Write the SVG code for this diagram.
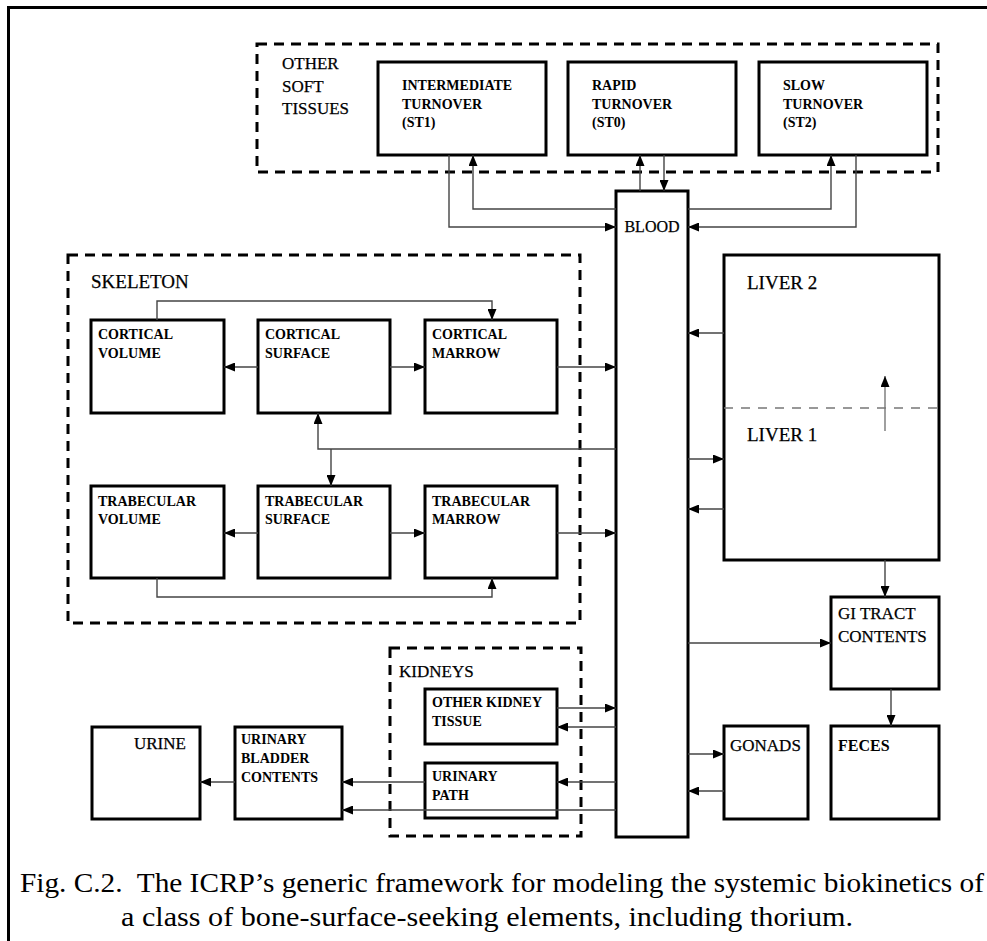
<svg xmlns="http://www.w3.org/2000/svg" width="987" height="941" viewBox="0 0 987 941">
<defs>
<marker id="ah" markerUnits="userSpaceOnUse" markerWidth="11" markerHeight="9" refX="11" refY="4.5" orient="auto">
<path d="M0,0 L11,4.5 L0,9 z" fill="#000"/>
</marker>
</defs>
<style>
.box{fill:#fff;stroke:#000;stroke-width:3}
.grp{fill:none;stroke:#000;stroke-width:3;stroke-dasharray:10,7}
.c{fill:none;stroke:#444;stroke-width:1.4;marker-end:url(#ah)}
.lb{font-family:"Liberation Serif",serif;font-weight:bold;font-size:14px;fill:#000}
.lr{font-family:"Liberation Serif",serif;font-size:17px;fill:#000;stroke:#000;stroke-width:0.25}
.cap{font-family:"Liberation Serif",serif;font-size:28px;fill:#000}
</style>
<rect width="987" height="941" fill="#fff"/>
<path d="M8.5,941 V7.5 H987" fill="none" stroke="#000" stroke-width="3"/>

<g id="other-soft-tissues">
<rect class="grp" x="257" y="44" width="681" height="128"/>
<text class="lr" x="282" y="69">OTHER</text>
<text class="lr" x="282" y="92">SOFT</text>
<text class="lr" x="282" y="114">TISSUES</text>
</g>
<g id="st1"><rect class="box" x="378" y="62" width="168" height="93"/>
<text class="lb" x="402" y="90">INTERMEDIATE</text><text class="lb" x="402" y="109">TURNOVER</text><text class="lb" x="402" y="127">(ST1)</text></g>
<g id="st0"><rect class="box" x="568" y="62" width="168" height="93"/>
<text class="lb" x="592" y="90">RAPID</text><text class="lb" x="592" y="109">TURNOVER</text><text class="lb" x="592" y="127">(ST0)</text></g>
<g id="st2"><rect class="box" x="759" y="62" width="168" height="93"/>
<text class="lb" x="783" y="90">SLOW</text><text class="lb" x="783" y="109">TURNOVER</text><text class="lb" x="783" y="127">(ST2)</text></g>

<g id="blood"><rect class="box" x="616" y="191" width="72" height="646"/>
<text class="lr" x="652" y="232" text-anchor="middle" style="font-size:16px">BLOOD</text></g>

<g id="skeleton">
<rect class="grp" x="68" y="255" width="512" height="368"/>
<text class="lr" x="91" y="288" style="font-size:19px">SKELETON</text>
</g>
<g id="cortical-volume"><rect class="box" x="91" y="320" width="133" height="93"/>
<text class="lb" x="98" y="339">CORTICAL</text><text class="lb" x="98" y="358">VOLUME</text></g>
<g id="cortical-surface"><rect class="box" x="258" y="320" width="132" height="93"/>
<text class="lb" x="265" y="339">CORTICAL</text><text class="lb" x="265" y="358">SURFACE</text></g>
<g id="cortical-marrow"><rect class="box" x="425" y="320" width="132" height="93"/>
<text class="lb" x="432" y="339">CORTICAL</text><text class="lb" x="432" y="358">MARROW</text></g>
<g id="trabecular-volume"><rect class="box" x="91" y="486" width="133" height="92"/>
<text class="lb" x="98" y="506">TRABECULAR</text><text class="lb" x="98" y="524">VOLUME</text></g>
<g id="trabecular-surface"><rect class="box" x="258" y="486" width="132" height="92"/>
<text class="lb" x="265" y="506">TRABECULAR</text><text class="lb" x="265" y="524">SURFACE</text></g>
<g id="trabecular-marrow"><rect class="box" x="425" y="486" width="132" height="92"/>
<text class="lb" x="432" y="506">TRABECULAR</text><text class="lb" x="432" y="524">MARROW</text></g>

<g id="liver"><rect class="box" x="724" y="255" width="215" height="305"/>
<line x1="724" y1="408" x2="939" y2="408" stroke="#777" stroke-width="1.5" stroke-dasharray="9,8"/>
<text class="lr" x="747" y="289" style="font-size:19px">LIVER 2</text>
<text class="lr" x="747" y="441" style="font-size:19px">LIVER 1</text></g>

<g id="gi-tract"><rect class="box" x="831" y="597" width="108" height="92"/>
<text class="lr" x="838" y="619">GI TRACT</text><text class="lr" x="838" y="642">CONTENTS</text></g>
<g id="gonads"><rect class="box" x="724" y="726" width="84" height="93"/>
<text class="lr" x="730" y="751">GONADS</text></g>
<g id="feces"><rect class="box" x="831" y="726" width="108" height="93"/>
<text class="lb" x="838" y="751" style="font-size:16px">FECES</text></g>

<g id="kidneys">
<rect class="grp" x="390" y="648" width="191" height="188"/>
<text class="lr" x="399" y="677">KIDNEYS</text>
</g>
<g id="other-kidney-tissue"><rect class="box" x="425" y="689" width="132" height="55"/>
<text class="lb" x="432" y="707">OTHER KIDNEY</text><text class="lb" x="432" y="726">TISSUE</text></g>
<g id="urinary-path"><rect class="box" x="425" y="763" width="132" height="55"/>
<text class="lb" x="432" y="781">URINARY</text><text class="lb" x="432" y="800">PATH</text></g>
<g id="urinary-bladder"><rect class="box" x="235" y="727" width="107" height="92"/>
<text class="lb" x="241" y="744">URINARY</text><text class="lb" x="241" y="763">BLADDER</text><text class="lb" x="241" y="782">CONTENTS</text></g>
<g id="urine"><rect class="box" x="92" y="727" width="108" height="92"/>
<text class="lr" x="134" y="749">URINE</text></g>

<g id="connectors">
<path class="c" d="M449,155 V227 H616"/>
<path class="c" d="M616,209 H473 V155"/>
<path class="c" d="M640,191 V155"/>
<path class="c" d="M664,155 V191"/>
<path class="c" d="M688,209 H831 V155"/>
<path class="c" d="M856,155 V227 H688"/>
<path class="c" d="M157,320 V301 H492 V320"/>
<path class="c" d="M258,367 H224"/>
<path class="c" d="M390,367 H425"/>
<path class="c" d="M557,367 H616"/>
<path class="c" d="M616,449 H318 V413"/>
<path class="c" d="M331,449 V486"/>
<path class="c" d="M258,533 H224"/>
<path class="c" d="M390,533 H425"/>
<path class="c" d="M557,533 H616"/>
<path class="c" d="M157,578 V597 H492 V578"/>
<path class="c" d="M724,333 H688"/>
<path class="c" d="M688,459 H724"/>
<path class="c" d="M724,509 H688"/>
<path class="c" d="M885,431 V376" style="stroke:#777"/>
<path class="c" d="M885,560 V597"/>
<path class="c" d="M688,643 H831"/>
<path class="c" d="M891,689 V726"/>
<path class="c" d="M688,754 H724"/>
<path class="c" d="M724,791 H688"/>
<path class="c" d="M557,708 H616"/>
<path class="c" d="M616,727 H557"/>
<path class="c" d="M616,782 H557"/>
<path class="c" d="M425,782 H342"/>
<path class="c" d="M616,810 H342"/>
<path class="c" d="M235,782 H200"/>
</g>

<g id="caption">
<text class="cap" x="20" y="892" xml:space="preserve" textLength="964" lengthAdjust="spacingAndGlyphs">Fig. C.2.  The ICRP’s generic framework for modeling the systemic biokinetics of</text>
<text class="cap" x="121" y="926" textLength="732" lengthAdjust="spacingAndGlyphs">a class of bone-surface-seeking elements, including thorium.</text>
</g>
</svg>
